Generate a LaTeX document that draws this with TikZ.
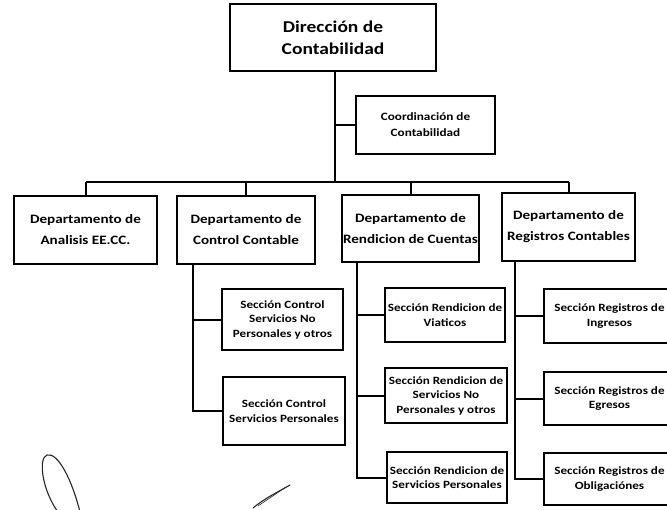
\documentclass[tikz,border=0pt]{standalone}
\usepackage{fontspec}
\setmainfont[FakeStretch=1.18]{Carlito}
\begin{document}
\begin{tikzpicture}[x=1pt,y=1pt,
  box/.style={draw=black,line width=2pt,align=center,inner sep=1pt,font=\bfseries},
  topbox/.style={box,font=\bfseries\fontsize{16.5}{22}\selectfont},
  coordbox/.style={box,font=\bfseries\fontsize{11.2}{16}\selectfont},
  deptbox/.style={box,font=\bfseries\fontsize{12.8}{21}\selectfont},
  secbox/.style={box,font=\bfseries\fontsize{11.1}{14.5}\selectfont},
  link/.style={draw=black,line width=2pt},
  scribble/.style={draw=black!85,line width=1.1pt,line cap=round}]
\useasboundingbox (0,0) rectangle (667,-509);
\clip (0,0) rectangle (667,-509);
\fill[white] (0,0) rectangle (667,-509);
% top
\node[topbox,minimum width=206pt,minimum height=67pt] (dir) at (333,-37.5) {Dirección de\\Contabilidad};
\node[coordbox,minimum width=139pt,minimum height=58pt] (coord) at (425.5,-125) {Coordinación de\\Contabilidad};
% departments
\node[deptbox,minimum width=143pt,minimum height=68pt] (d1) at (85.5,-230) {Departamento de\\Analisis EE.CC.};
\node[deptbox,minimum width=138pt,minimum height=68pt] (d2) at (246,-229.5) {Departamento de\\Control Contable};
\node[deptbox,minimum width=133pt,minimum height=67pt] (d3) at (410.5,-228.5) {Departamento de\\Rendicion de Cuentas};
\node[deptbox,minimum width=133pt,minimum height=68pt] (d4) at (568.5,-227) {Departamento de\\Registros Contables};
% sections
\node[secbox,minimum width=121pt,minimum height=61pt] (c1) at (282.5,-319.5) {Sección Control\\Servicios No\\Personales y otros};
\node[secbox,minimum width=122pt,minimum height=68pt] (c2) at (284,-411) {Sección Control\\Servicios Personales};
\node[secbox,minimum width=120pt,minimum height=54pt] (r1) at (445,-315) {Sección Rendicion de\\Viaticos};
\node[secbox,minimum width=122pt,minimum height=55pt] (r2) at (446,-395.5) {Sección Rendicion de\\Servicios No\\Personales y otros};
\node[secbox,minimum width=120pt,minimum height=51pt] (r3) at (447,-477.5) {Sección Rendicion de\\Servicios Personales};
\node[secbox,minimum width=131pt,minimum height=54pt] (g1) at (609.5,-316) {Sección Registros de\\Ingresos};
\node[secbox,minimum width=131pt,minimum height=53pt] (g2) at (609.5,-398.5) {Sección Registros de\\Egresos};
\node[secbox,minimum width=131pt,minimum height=52pt] (g3) at (609.5,-479) {Sección Registros de\\Obligaciónes};
% connectors
\coordinate (bus) at (335,-182);
\draw[link] ([xshift=2pt]dir.south) -- ([xshift=2pt]dir.south |- bus);
\draw[link] (coord.west) -- (coord.west -| bus);
\draw[link] (d1.north |- bus) -- (d4.north |- bus);
\draw[link] (d1.north) -- (d1.north |- bus);
\draw[link] (d2.north) -- (d2.north |- bus);
\draw[link] (d3.north) -- (d3.north |- bus);
\draw[link] (d4.north) -- (d4.north |- bus);
\draw[link] ([xshift=17pt]d2.south west) |- (c2.west);
\draw[link] (c1.west) -- ([xshift=17pt]d2.south west |- c1.west);
\draw[link] ([xshift=16pt]d3.south west) |- (r3.west);
\draw[link] (r1.west) -- ([xshift=16pt]d3.south west |- r1.west);
\draw[link] (r2.west) -- ([xshift=16pt]d3.south west |- r2.west);
\draw[link] ([xshift=14pt]d4.south west) |- (g3.west);
\draw[link] (g1.west) -- ([xshift=14pt]d4.south west |- g1.west);
\draw[link] (g2.west) -- ([xshift=14pt]d4.south west |- g2.west);
% handwritten marks
\draw[scribble] (80,-512) .. controls (72,-480) and (58,-452) .. (47,-455) .. controls (38,-458) and (42,-490) .. (58,-512);
\draw[scribble] (253,-508) .. controls (265,-498) and (278,-492) .. (290,-485);
\draw[scribble,line width=0.6pt] (258,-506) -- (286,-487);
\end{tikzpicture}
\end{document}
